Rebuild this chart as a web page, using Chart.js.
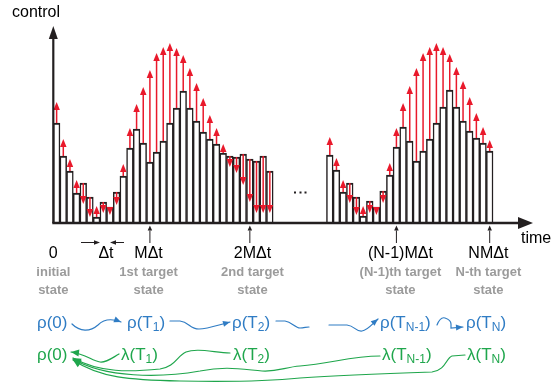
<!DOCTYPE html>
<html><head><meta charset="utf-8">
<script src="https://cdn.jsdelivr.net/npm/chart.js@4.4.1/dist/chart.umd.min.js"></script>
<style>html,body{margin:0;padding:0;background:#fff;overflow:hidden}canvas{display:block}</style>
</head><body>
<canvas id="c" width="553" height="387"></canvas>
<script>
// ---- data (control amplitude per time slice, and its updated target) ----
const seg1Start = 0;
const seg1Heights = [100,67,52,30,40,26,6,21,16,31,47,75,94,80,61,71,82,100,115,132,115,102,91,84,79,70,67,66,69,64,62,67,52];
const seg1Targets = [121,84,64,43,19,6,17,10,8,18,59,95,119,136,153,170,176,180,175,168,155,140,125,108,95,79,56,50,38,21,10,10,10];
const seg2Start = 41;
const seg2Heights = [68,53,31,40,26,7,22,16,32,48,76,96,82,62,72,84,100,116,133,116,102,92,85,80,72];
const seg2Targets = [86,65,43,20,8,17,10,8,20,60,95,120,137,155,170,176,180,176,169,156,142,126,110,96,83];
const tickTimes = [14.5, 29.5, 51.5, 65.5];
const labelTimes = [0, 14.3, 29.9, 52.1, 65.3];
const tickLabels = ['0', 'MΔt', '2MΔt', '(N-1)MΔt', 'NMΔt'];
const stateLabels = [['initial','state'],['1st target','state'],['2nd target','state'],['(N-1)th target','state'],['N-th target','state']];

function toPoints(start, arr){ return arr.map((v,i)=>({x:start+i+0.5, y:v})); }
const barData = toPoints(seg1Start, seg1Heights).concat(toPoints(seg2Start, seg2Heights));
const targetData = toPoints(seg1Start, seg1Targets).concat(toPoints(seg2Start, seg2Targets));

const RED = '#e9192b', BLUE = '#2f7cc4', GREEN = '#1fa64c', GREY = '#9b9b9b', INK = '#231f20';
const FONT = '"Liberation Sans", Arial, sans-serif';

function arrow(ctx, x0, y0, x1, y1, color, lw, hl, hw){
  const a = Math.atan2(y1-y0, x1-x0);
  const bx = x1 - hl*Math.cos(a), by = y1 - hl*Math.sin(a);
  ctx.strokeStyle = color; ctx.lineWidth = lw;
  ctx.beginPath(); ctx.moveTo(x0,y0); ctx.lineTo(bx,by); ctx.stroke();
  head(ctx, x1, y1, a, color, hl, hw);
}
function head(ctx, x1, y1, a, color, hl, hw){
  const bx = x1 - hl*Math.cos(a), by = y1 - hl*Math.sin(a);
  ctx.fillStyle = color; ctx.beginPath(); ctx.moveTo(x1,y1);
  ctx.lineTo(bx + hw/2*Math.sin(a), by - hw/2*Math.cos(a));
  ctx.lineTo(bx - hw/2*Math.sin(a), by + hw/2*Math.cos(a));
  ctx.closePath(); ctx.fill();
}
function curve(ctx, pts, color, lw, withHead, hl, hw){
  ctx.strokeStyle = color; ctx.lineWidth = lw; ctx.lineCap='round';
  ctx.beginPath(); ctx.moveTo(pts[0][0], pts[0][1]);
  let prev = pts[0], last = pts[0];
  for (let i=1;i<pts.length;i++){
    const s = pts[i];
    if (s.length === 2){ ctx.lineTo(s[0], s[1]); prev = last; last = s; }
    else { ctx.bezierCurveTo(s[0],s[1],s[2],s[3],s[4],s[5]); prev = [s[2],s[3]]; last = [s[4],s[5]]; }
  }
  ctx.stroke();
  ctx.lineCap='butt';
  if (withHead){
    const a = Math.atan2(last[1]-prev[1], last[0]-prev[0]);
    head(ctx, last[0], last[1], a, color, hl, hw);
  }
}
function subText(ctx, parts, x, y, size, color){
  ctx.fillStyle = color; ctx.textBaseline = 'middle'; ctx.textAlign = 'left';
  let cx = x;
  for (const [t, sub] of parts){
    ctx.font = (sub ? Math.round(size*0.72) : size) + 'px ' + FONT;
    ctx.fillText(t, cx, sub ? y + size*0.3 : y);
    cx += ctx.measureText(t).width;
  }
}

const overlay = {
  id: 'overlay',
  afterDatasetsDraw(chart){
    const ctx = chart.ctx, xs = chart.scales.x, ys = chart.scales.y;
    ctx.save();
    barData.forEach((p, i) => {
      const t = targetData[i];
      const x = xs.getPixelForValue(p.x);
      arrow(ctx, x, ys.getPixelForValue(p.y), x, ys.getPixelForValue(t.y), RED, 1.5, 8, 6.5);
    });
    const x0 = xs.getPixelForValue(0), yb = ys.getPixelForValue(0);
    ctx.strokeStyle = INK; ctx.lineWidth = 2.4;
    ctx.beginPath(); ctx.moveTo(x0-1, yb); ctx.lineTo(xs.right-12, yb); ctx.stroke();
    head(ctx, xs.right, yb, 0, INK, 15, 12);
    ctx.lineWidth = 2.2;
    ctx.beginPath(); ctx.moveTo(x0, yb); ctx.lineTo(x0, ys.top+12); ctx.stroke();
    head(ctx, x0, ys.top+1, -Math.PI/2, INK, 13, 9);
    ctx.fillStyle = INK;
    [295, 300.5, 305.5].forEach(d => ctx.fillRect(d-1, 191.5, 2, 2));
    tickTimes.forEach(t => {
      const x = xs.getPixelForValue(t);
      arrow(ctx, x, yb+20, x, yb+2.5, INK, 1, 5, 4.5);
    });
    arrow(ctx, 81, 242.5, 100, 242.5, INK, 1, 6, 4.5);
    arrow(ctx, 124, 242.5, 110, 242.5, INK, 1, 6, 4.5);
    ctx.fillStyle = '#000'; ctx.textBaseline = 'middle';
    ctx.font = '16px ' + FONT;
    ctx.textAlign = 'left';
    ctx.fillText('control', 12, 13);
    ctx.fillText('time', 521, 239);
    ctx.textAlign = 'center';
    ctx.fillText('Δt', 106, 254);
    tickLabels.forEach((l, i) => ctx.fillText(l, xs.getPixelForValue(labelTimes[i]), 254));
    ctx.fillStyle = GREY; ctx.font = 'bold 13px ' + FONT;
    stateLabels.forEach((l, i) => {
      const x = xs.getPixelForValue(labelTimes[i]);
      ctx.fillText(l[0], x, 272.5);
      ctx.fillText(l[1], x, 290.5);
    });
    const S = 17;
    subText(ctx, [['ρ(0)', false]], 37, 323, S, BLUE);
    subText(ctx, [['ρ(T', false], ['1', true], [')', false]], 127, 323, S, BLUE);
    subText(ctx, [['ρ(T', false], ['2', true], [')', false]], 232, 323, S, BLUE);
    subText(ctx, [['ρ(T', false], ['N-1', true], [')', false]], 380, 323, S, BLUE);
    subText(ctx, [['ρ(T', false], ['N', true], [')', false]], 466, 323, S, BLUE);
    curve(ctx, [[72,324],[80,332, 90,332, 98,325],[104,319, 111,318, 121,322]], BLUE, 1.2, true, 7, 6);
    curve(ctx, [[170,321],[180,321],[189,322, 190,329, 199,329],[207,329, 215,326, 230,322]], BLUE, 1.2, true, 7, 6);
    curve(ctx, [[276,321],[285,321],[292,322, 295,328, 300,328],[304,328, 306,327, 309,327]], BLUE, 1.2, false);
    curve(ctx, [[329,325],[347,325],[355,326, 356,332, 362,331],[368,330, 372,324, 378,319]], BLUE, 1.2, true, 7, 6);
    curve(ctx, [[437,325],[439,320, 442,317, 445,318],[448,319, 451,321, 451,324],[451,328],[463,327]], BLUE, 1.2, true, 7, 6);
    subText(ctx, [['ρ(0)', false]], 37, 355, S, GREEN);
    subText(ctx, [['λ(T', false], ['1', true], [')', false]], 121, 355, S, GREEN);
    subText(ctx, [['λ(T', false], ['2', true], [')', false]], 233, 355, S, GREEN);
    subText(ctx, [['λ(T', false], ['N-1', true], [')', false]], 382, 355, S, GREEN);
    subText(ctx, [['λ(T', false], ['N', true], [')', false]], 467, 355, S, GREEN);
    curve(ctx, [[119,354],[112,358, 106,363, 100,362],[92,361, 86,354, 71,352]], GREEN, 1.2, true, 8, 7);
    curve(ctx, [[230,353],[212,352, 196,348, 186,352],[177,356, 175,367, 160,369],[130,372, 100,373, 73,358]], GREEN, 1.2, true, 8, 7);
    curve(ctx, [[380,356],[350,356, 330,364, 300,366],[285,367, 278,372, 262,371],[240,369, 225,366, 200,371],[160,378, 105,378, 73,359]], GREEN, 1.2, true, 8, 7);
    curve(ctx, [[465,355],[452,356],[446,358, 446,370, 432,372],[400,373, 340,375, 300,378],[270,381, 230,382, 180,381],[130,380, 100,378, 73,360]], GREEN, 1.2, true, 8, 7);
    ctx.restore();
  }
};

new Chart(document.getElementById('c'), {
  type: 'bar',
  data: { datasets: [{
    data: barData,
    backgroundColor: '#ffffff',
    borderColor: INK,
    borderWidth: {top: 2.2, left: 1.5, right: 1.5, bottom: 0},
    borderSkipped: 'bottom',
    barPercentage: 1, categoryPercentage: 1
  }]},
  options: {
    responsive: false, animation: false,
    layout: { padding: {left: 53.3, right: 20, top: 25, bottom: 164} },
    plugins: { legend: {display: false}, tooltip: {enabled: false} },
    scales: {
      x: { type: 'linear', min: 0, max: 72, offset: false, display: false },
      y: { min: 0, max: 198, display: false }
    }
  },
  plugins: [overlay]
});
</script>
</body></html>
